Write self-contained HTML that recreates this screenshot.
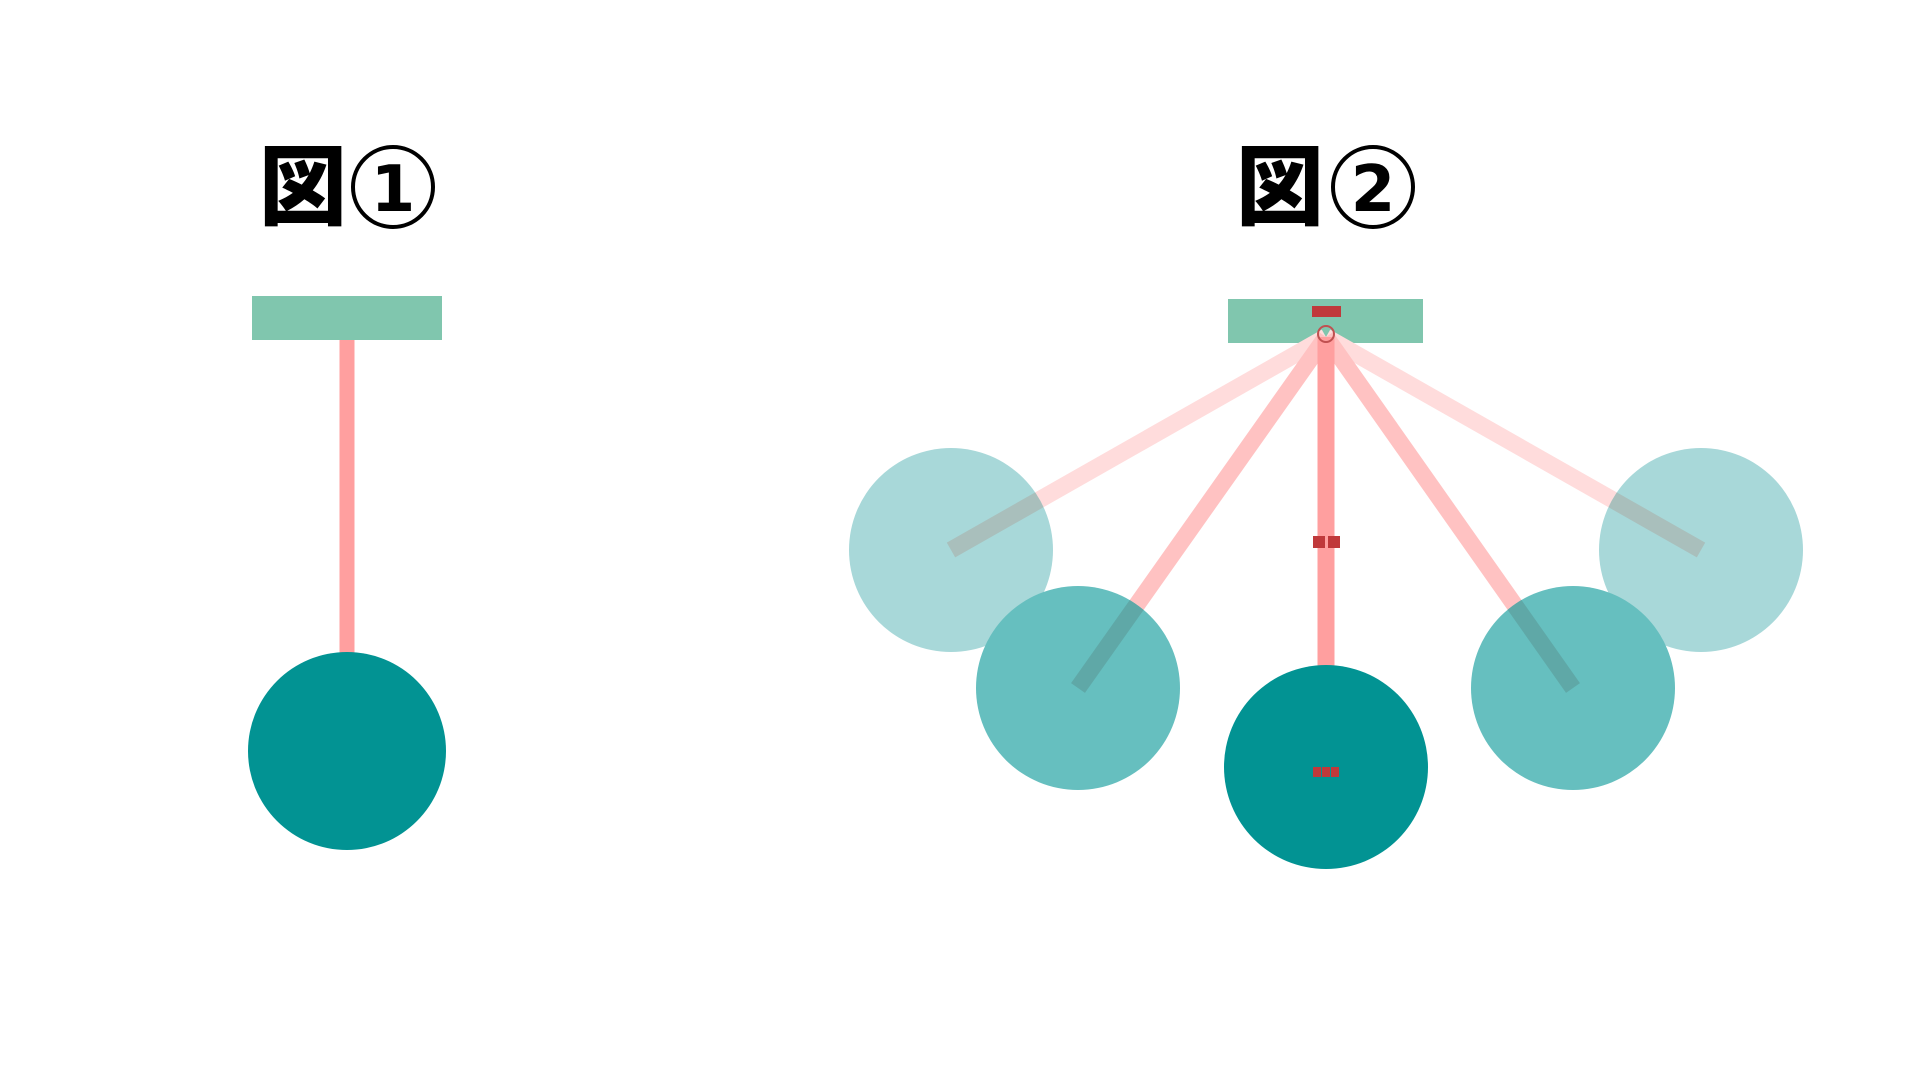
<!DOCTYPE html>
<html><head><meta charset="utf-8"><style>
html,body{margin:0;padding:0;background:#fff;width:1920px;height:1080px;overflow:hidden}
</style></head><body>
<svg width="1920" height="1080" viewBox="0 0 1920 1080" xmlns="http://www.w3.org/2000/svg">
<!-- Fig 1 -->
<text x="259" y="218" font-family="Noto Sans CJK JP, sans-serif" font-weight="900" font-size="88" fill="#000">図</text>
<circle cx="393" cy="187" r="40" fill="none" stroke="#000" stroke-width="4"/>
<text x="393" y="211" text-anchor="middle" font-family="DejaVu Sans, sans-serif" font-weight="bold" font-size="64" fill="#000">1</text>
<rect x="252" y="296" width="190" height="44" fill="#80c6ae"/>
<line x1="347" y1="340" x2="347" y2="660" stroke="#ff9f9f" stroke-width="15"/>
<circle cx="347" cy="751" r="99" fill="#029393"/>

<!-- Fig 2 -->
<text x="1236" y="218" font-family="Noto Sans CJK JP, sans-serif" font-weight="900" font-size="88" fill="#000">図</text>
<circle cx="1373" cy="187" r="40" fill="none" stroke="#000" stroke-width="4"/>
<text x="1373" y="211" text-anchor="middle" font-family="DejaVu Sans, sans-serif" font-weight="bold" font-size="64" fill="#000">2</text>
<rect x="1228" y="299" width="195" height="44" fill="#80c6ae"/>

<line x1="1326" y1="337" x2="951" y2="550" stroke="#ffdcdc" stroke-width="17"/>
<line x1="1326" y1="337" x2="1701" y2="550" stroke="#ffdcdc" stroke-width="17"/>
<circle cx="951" cy="550" r="102" fill="#a8d8d9"/>
<circle cx="1701" cy="550" r="102" fill="#a8d8d9"/>
<clipPath id="cl1"><circle cx="951" cy="550" r="102"/></clipPath>
<clipPath id="cr1"><circle cx="1701" cy="550" r="102"/></clipPath>
<line clip-path="url(#cl1)" x1="1326" y1="337" x2="951" y2="550" stroke="#a9bfbc" stroke-width="17"/>
<line clip-path="url(#cr1)" x1="1326" y1="337" x2="1701" y2="550" stroke="#a9bfbc" stroke-width="17"/>

<line x1="1326" y1="337" x2="1078" y2="688" stroke="#ffc2c2" stroke-width="17"/>
<line x1="1326" y1="337" x2="1573" y2="688" stroke="#ffc2c2" stroke-width="17"/>
<circle cx="1078" cy="688" r="102" fill="#66bfbf"/>
<circle cx="1573" cy="688" r="102" fill="#66bfbf"/>
<clipPath id="cl2"><circle cx="1078" cy="688" r="102"/></clipPath>
<clipPath id="cr2"><circle cx="1573" cy="688" r="102"/></clipPath>
<line clip-path="url(#cl2)" x1="1326" y1="337" x2="1078" y2="688" stroke="#5fa8a7" stroke-width="17"/>
<line clip-path="url(#cr2)" x1="1326" y1="337" x2="1573" y2="688" stroke="#5fa8a7" stroke-width="17"/>

<line x1="1326" y1="337" x2="1326" y2="680" stroke="#ff9f9f" stroke-width="17"/>
<circle cx="1326" cy="767" r="102" fill="#029393"/>

<rect x="1312" y="306" width="29" height="11" fill="#c0393b"/>
<circle cx="1326" cy="334" r="8" fill="none" stroke="#c05050" stroke-width="2"/>
<rect x="1313" y="536" width="12" height="12" fill="#c0393b"/>
<rect x="1328" y="536" width="12" height="12" fill="#c0393b"/>
<rect x="1313" y="767" width="8" height="10" fill="#c0393b"/>
<rect x="1322" y="767" width="8" height="10" fill="#c0393b"/>
<rect x="1331" y="767" width="8" height="10" fill="#c0393b"/>
</svg>
</body></html>
